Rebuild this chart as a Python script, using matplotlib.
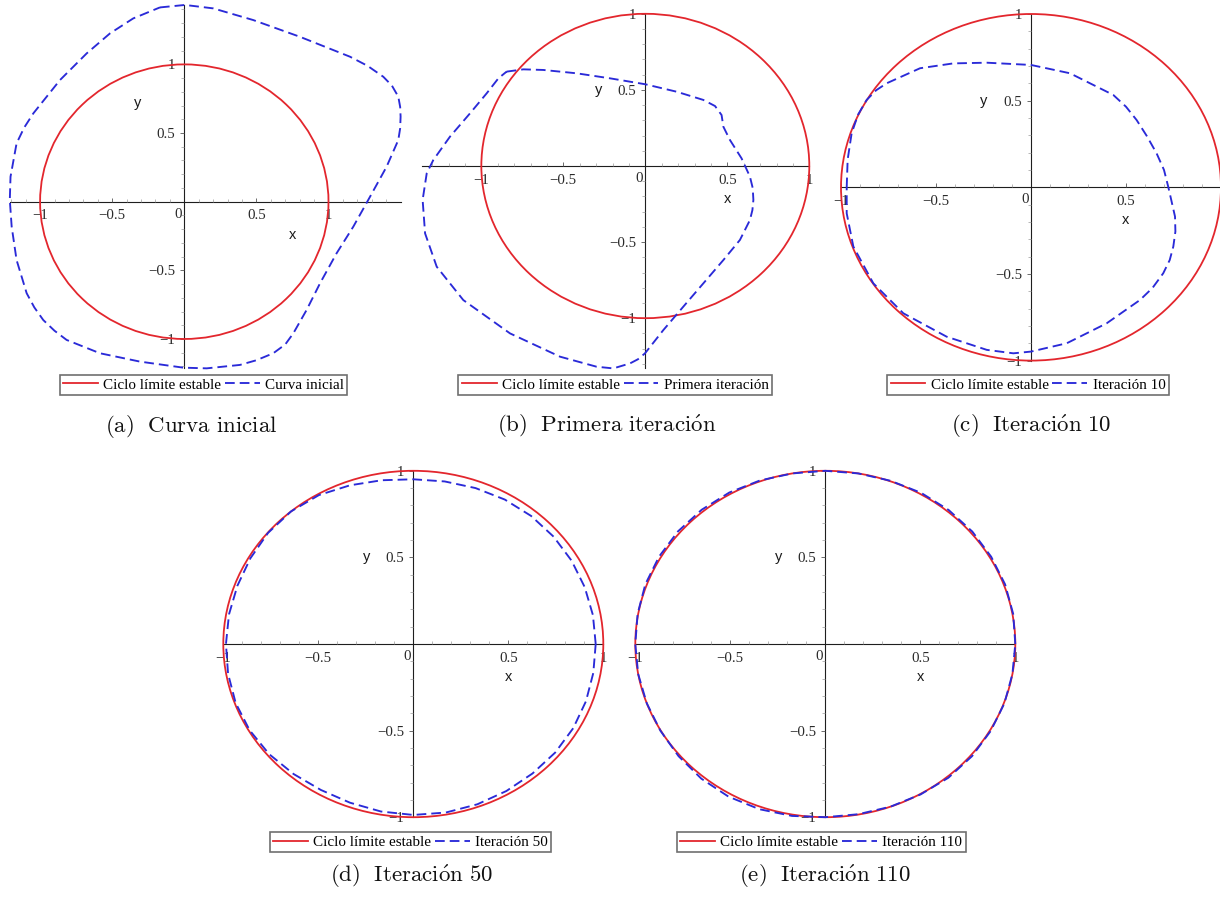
import numpy as np
import matplotlib
matplotlib.use("Agg")
import matplotlib.pyplot as plt
from matplotlib.patches import Circle
from matplotlib.lines import Line2D
from matplotlib.ticker import FixedLocator, FixedFormatter, NullFormatter

plt.rcParams["lines.scale_dashes"] = False
plt.rcParams["mathtext.fontset"] = "cm"

W, H = 1220, 901

# ---------------------------------------------------------------- data
LIMIT_RADIUS = 1.0
LIMIT_LABEL = "Ciclo límite estable"

# (a) initial curve
curva_x = [-0.169, 0.005, 0.201, 0.478, 0.802, 1.149, 1.270, 1.380, 1.440, 1.484,
           1.497, 1.500, 1.497, 1.484, 1.403, 1.288, 1.172, 1.056, 0.941, 0.848,
           0.756, 0.700, 0.617, 0.500, 0.386, 0.155, -0.007, -0.307, -0.585, -0.816,
           -0.900, -0.978, -1.040, -1.093, -1.163, -1.197, -1.210, -1.205, -1.163,
           -1.110, -1.047, -0.862, -0.677, -0.515, -0.354]
curva_y = [1.415, 1.433, 1.408, 1.323, 1.201, 1.056, 0.990, 0.910, 0.845, 0.765,
           0.690, 0.619, 0.535, 0.449, 0.255, 0.036, -0.182, -0.376, -0.595, -0.789,
           -0.959, -1.040, -1.104, -1.155, -1.189, -1.214, -1.209, -1.165, -1.104, -1.007,
           -0.940, -0.862, -0.770, -0.667, -0.425, -0.182, 0.012, 0.182, 0.425,
           0.540, 0.643, 0.886, 1.080, 1.226, 1.335]

# (b) first iteration
iter1_x = [-0.846, -0.744, -0.622, -0.419, -0.215, 0.000, 0.191, 0.354, 0.425, 0.465,
           0.476, 0.516, 0.587, 0.638, 0.655, 0.659, 0.653, 0.638, 0.577, 0.476,
           0.354, 0.232, 0.110, -0.002, -0.045, -0.093, -0.195, -0.297, -0.520, -0.825,
           -1.110, -1.272, -1.343, -1.358, -1.333, -1.293, -1.191, -1.069, -0.967, -0.896]
iter1_y = [0.620, 0.635, 0.631, 0.609, 0.576, 0.537, 0.488, 0.434, 0.394, 0.335,
           0.258, 0.171, 0.050, -0.070, -0.145, -0.223, -0.290, -0.355, -0.486, -0.618,
           -0.771, -0.924, -1.078, -1.231, -1.270, -1.297, -1.330, -1.319, -1.253, -1.100,
           -0.881, -0.662, -0.443, -0.223, -0.048, 0.039, 0.193, 0.346, 0.478, 0.576]

# (c) iteration 10
iter10_x = [-0.970, -0.965, -0.944, -0.910, -0.865, -0.815, -0.760, -0.584, -0.409, -0.233,
            0.000, 0.205, 0.433, 0.500, 0.556, 0.610, 0.661, 0.700, 0.723, 0.758,
            0.760, 0.749, 0.730, 0.696, 0.640, 0.574, 0.398, 0.188, 0.000, -0.093,
            -0.233, -0.444, -0.672, -0.830, -0.935, -0.970]
iter10_y = [0.000, 0.160, 0.312, 0.420, 0.504, 0.560, 0.600, 0.687, 0.715, 0.719,
            0.706, 0.658, 0.533, 0.465, 0.388, 0.295, 0.196, 0.100, 0.000, -0.169,
            -0.255, -0.342, -0.420, -0.496, -0.580, -0.650, -0.785, -0.900, -0.948, -0.958,
            -0.938, -0.862, -0.727, -0.554, -0.342, -0.150]

# (d), (e) radius of the iterate every 10 degrees, starting on the positive x axis
angles_deg = [0, 10, 20, 30, 40, 50, 60, 70, 80, 90, 100, 110, 120, 130, 140, 150, 160, 170,
              180, 190, 200, 210, 220, 230, 240, 250, 260, 270, 280, 290, 300, 310, 320, 330,
              340, 350]
iter50_r = [0.960, 0.960, 0.960, 0.962, 0.964, 0.965, 0.963, 0.958, 0.953, 0.951,
            0.960, 0.975, 0.993, 1.000, 0.998, 0.990, 0.985, 0.985, 0.986, 0.990,
            0.995, 0.995, 0.990, 0.980, 0.973, 0.975, 0.982, 0.987, 0.988, 0.985,
            0.980, 0.976, 0.975, 0.972, 0.967, 0.962]
iter110_r = [1.000, 1.004, 1.007, 1.008, 1.010, 1.010, 1.008, 1.003, 1.000, 1.000,
             1.000, 1.005, 1.010, 1.012, 1.012, 1.010, 1.008, 1.003, 1.000, 1.000,
             1.000, 1.002, 1.008, 1.015, 1.018, 1.015, 1.008, 1.000, 0.998, 1.000,
             1.003, 1.008, 1.008, 1.005, 1.003, 1.000]

iter_labels = ["Curva inicial", "Primera iteración", "Iteración 10",
               "Iteración 50", "Iteración 110"]
captions = [r"$\mathrm{(a)\ \ Curva\ inicial}$",
            r"$\mathrm{(b)\ \ Primera\ iteraci\acute{o}n}$",
            r"$\mathrm{(c)\ \ Iteraci\acute{o}n\ 10}$",
            r"$\mathrm{(d)\ \ Iteraci\acute{o}n\ 50}$",
            r"$\mathrm{(e)\ \ Iteraci\acute{o}n\ 110}$"]

tick_values = [-1, -0.5, 0.5, 1]
tick_labels = ["\u22121", "\u22120.5", "0.5", "1"]


def polar_to_xy(r_list):
    th = np.deg2rad(np.array(angles_deg + [angles_deg[0]], dtype=float))
    r = np.array(r_list + [r_list[0]], dtype=float)
    return r * np.cos(th), r * np.sin(th)


def closed(seq):
    return list(seq) + [seq[0]]


x50, y50 = polar_to_xy(iter50_r)
x110, y110 = polar_to_xy(iter110_r)
curves = [(closed(curva_x), closed(curva_y)),
          (closed(iter1_x), closed(iter1_y)),
          (closed(iter10_x), closed(iter10_y)),
          (x50, y50),
          (x110, y110)]

# ---------------------------------------------------------------- layout (pixels)
# rect: left, top, width, height ; legend/caption: centre x, centre y
panels = [
    dict(rect=(9.8, 4.95, 390.8, 363.4), xlim=(-1.21, 1.50), ylim=(-1.214, 1.433),
         legend=(203.5, 384.8), caption=(190.8, 426.3), last_xlabel=True),
    dict(rect=(422.3, 13.8, 387.0, 354.6), xlim=(-1.36, 1.00), ylim=(-1.33, 1.00),
         legend=(615.2, 384.8), caption=(607.0, 426.3), last_xlabel=True),
    dict(rect=(841.0, 14.0, 380.0, 346.6), xlim=(-1.0, 1.0), ylim=(-1.0, 1.0),
         legend=(1028.0, 384.8), caption=(1030.8, 426.3), last_xlabel=False),
    dict(rect=(223.3, 470.8, 380.0, 346.4), xlim=(-1.0, 1.0), ylim=(-1.0, 1.0),
         legend=(410.3, 842.0), caption=(412.0, 876.7), last_xlabel=True),
    dict(rect=(635.3, 470.8, 380.0, 346.4), xlim=(-1.0, 1.0), ylim=(-1.0, 1.0),
         legend=(821.3, 842.0), caption=(825.0, 876.7), last_xlabel=True),
]

RED = "#e3262d"
BLUE = "#2a2ad8"
AXIS_COLOR = "#1e1e1e"
TICK_FONT = dict(family="Liberation Serif", size=10.7)
LABEL_FONT = dict(family="Liberation Sans", size=10.5)
PX = 72.0 / 100.0  # points per pixel at dpi 100
RED_LW = 1.3
BLUE_LW = 1.35
DASH = (7.0, 3.6)

fig = plt.figure(figsize=(W / 100, H / 100), dpi=100)
fig.patch.set_facecolor("white")

for p, (cx, cy), lab, cap in zip(panels, curves, iter_labels, captions):
    l, t, w, h = p["rect"]
    ax = fig.add_axes([l / W, 1 - (t + h) / H, w / W, h / H])
    ax.set_xlim(*p["xlim"])
    ax.set_ylim(*p["ylim"])
    ax.patch.set_alpha(0)

    for side in ("top", "right"):
        ax.spines[side].set_visible(False)
    for side in ("left", "bottom"):
        ax.spines[side].set_position(("data", 0))
        ax.spines[side].set_color(AXIS_COLOR)
        ax.spines[side].set_linewidth(0.8)
        ax.spines[side].set_zorder(1)

    xmin, xmax = p["xlim"]
    ymin, ymax = p["ylim"]
    xminor = [v / 10 for v in range(int(np.ceil(xmin * 10)), int(np.floor(xmax * 10)) + 1)
              if v % 5 != 0]
    yminor = [v / 10 for v in range(int(np.ceil(ymin * 10)), int(np.floor(ymax * 10)) + 1)
              if v % 5 != 0]
    xlabels = tick_labels if p["last_xlabel"] else tick_labels[:-1] + [""]
    ax.xaxis.set_major_locator(FixedLocator(tick_values))
    ax.xaxis.set_major_formatter(FixedFormatter(xlabels))
    ax.yaxis.set_major_locator(FixedLocator(tick_values))
    ax.yaxis.set_major_formatter(FixedFormatter(tick_labels))
    ax.xaxis.set_minor_locator(FixedLocator(xminor))
    ax.yaxis.set_minor_locator(FixedLocator(yminor))
    ax.xaxis.set_minor_formatter(NullFormatter())
    ax.yaxis.set_minor_formatter(NullFormatter())
    ax.tick_params(axis="x", which="major", direction="in", length=3, width=0.6,
                   color="#555555", pad=5.5, labelcolor="#2a2a2a")
    ax.tick_params(axis="y", which="major", direction="out", length=3, width=0.6,
                   color="#555555", pad=3.5, labelcolor="#2a2a2a")
    ax.tick_params(axis="x", which="minor", direction="in", length=2, width=0.5,
                   color="#9a9a9a")
    ax.tick_params(axis="y", which="minor", direction="out", length=2, width=0.5,
                   color="#9a9a9a")
    for tl in ax.get_xticklabels() + ax.get_yticklabels():
        tl.set_fontfamily(TICK_FONT["family"])
        tl.set_fontsize(TICK_FONT["size"])

    # origin label
    ax.annotate("0", xy=(0, 0), xytext=(-6 * PX, -12.6 * PX), textcoords="offset points",
                ha="center", va="center", color="#2a2a2a", **TICK_FONT)
    # axis names at the middle of the positive half-axes
    ax.annotate("x", xy=(xmax / 2, 0), xytext=(0, -33 * PX), textcoords="offset points",
                ha="center", va="center", color="#1a1a1a", **LABEL_FONT)
    ax.annotate("y", xy=(0, ymax / 2), xytext=(-47 * PX, 0), textcoords="offset points",
                ha="center", va="center", color="#1a1a1a", **LABEL_FONT)

    ax.add_patch(Circle((0, 0), LIMIT_RADIUS, fill=False, edgecolor=RED, lw=RED_LW,
                        zorder=3, clip_on=False))
    ax.plot(cx, cy, color=BLUE, lw=BLUE_LW, dashes=DASH, zorder=4, clip_on=False)

    handles = [Line2D([], [], color=RED, lw=RED_LW),
               Line2D([], [], color=BLUE, lw=BLUE_LW, dashes=DASH)]
    lx, ly = p["legend"]
    leg = fig.legend(handles, [LIMIT_LABEL, lab], loc="center",
                     bbox_to_anchor=(lx / W, 1 - ly / H), ncol=2,
                     prop=dict(family="Liberation Serif", size=10.9),
                     frameon=True, fancybox=False, framealpha=1, edgecolor="#707070",
                     handlelength=2.3, handletextpad=0.35, columnspacing=0.25,
                     borderpad=0.22, borderaxespad=0)
    leg.get_frame().set_linewidth(1.2)

    capx, capy = p["caption"]
    fig.text(capx / W, 1 - capy / H, cap, ha="center", va="center", fontsize=16.5,
             color="#111111")

fig.savefig("out.png", dpi=100, facecolor="white")
